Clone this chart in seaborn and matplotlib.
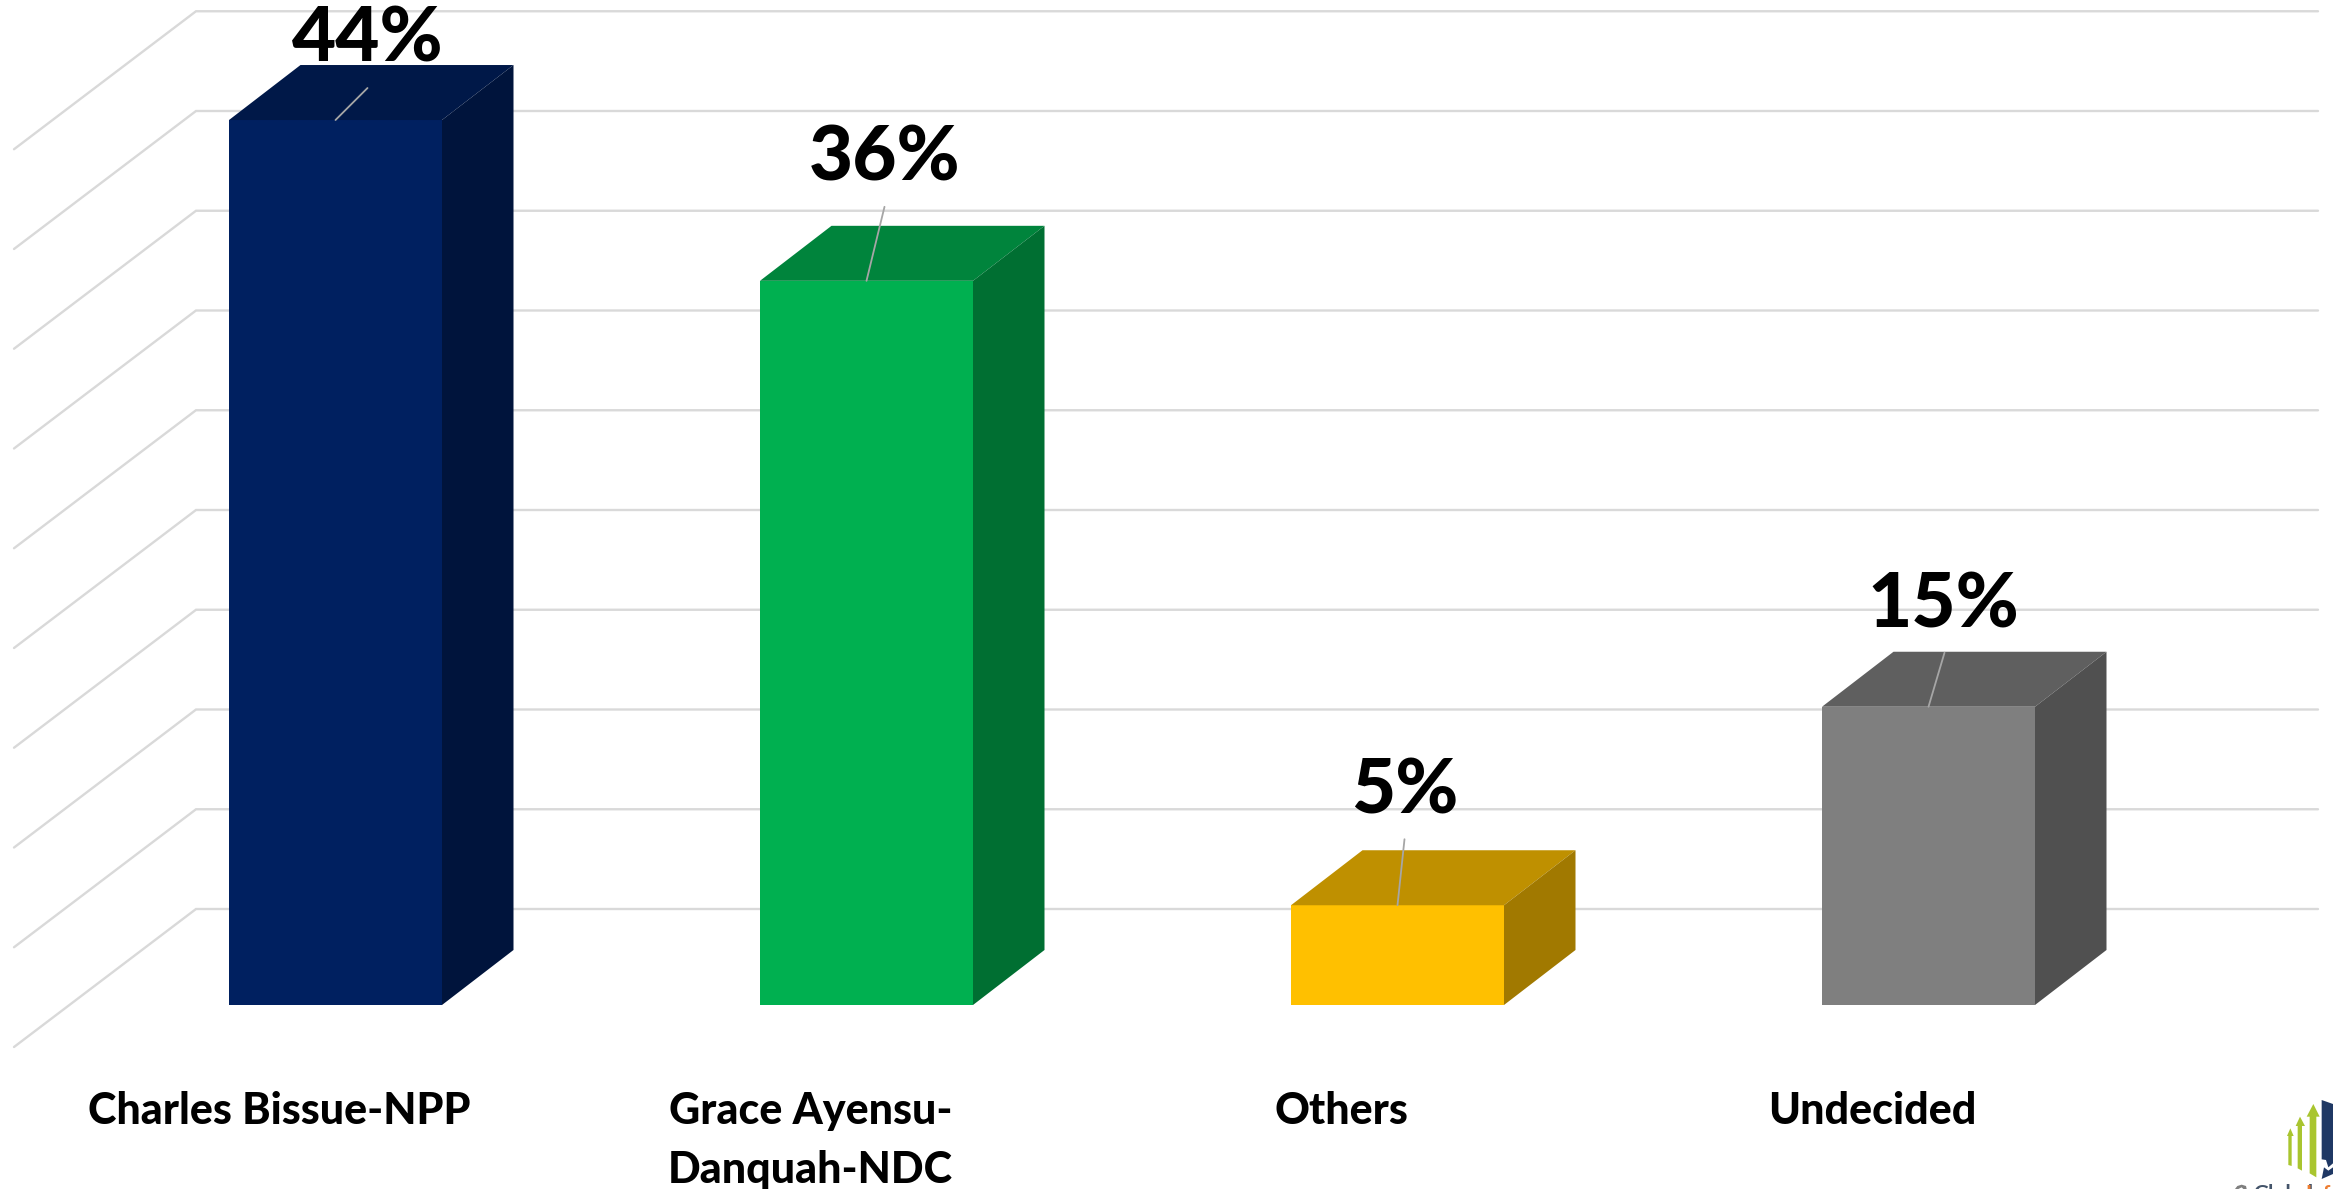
import numpy as np
import matplotlib
matplotlib.use("Agg")
import matplotlib.pyplot as plt
from matplotlib.patches import Polygon
import seaborn as sns

# data
categories = ["Charles Bissue-NPP", "Grace Ayensu-\nDanquah-NDC", "Others", "Undecided"]
values = [44.36, 36.3, 5.0, 14.95]
bar_colors = ["#002060", "#00B050", "#FFC000", "#7F7F7F"]
grid_values = [0, 5, 10, 15, 20, 25, 30, 35, 40, 45]

# where the label sits relative to the top of its bar, in pixels
label_dx = [32, 18, 7, 15]
label_dy = [81, 122, 114, 101]
leader_dx = [32, 18, 7, 16]
leader_dy = [32, 74, 66, 54]

W, H = 2333, 1189
BASE_PX = 1005
PX_PER_X = 531.0
PX_PER_Y = 19.95
CENTER0_PX = 335.5

# 3d look: bar depth, wall offset
depth_x = 71.5 / PX_PER_X
depth_y = 55 / PX_PER_Y
wall_rise = 96 / PX_PER_Y
side_dx = 182 / PX_PER_X
side_dy = 138 / PX_PER_Y


def shade(color, k):
    r, g, b = matplotlib.colors.to_rgb(color)
    return (r * k, g * k, b * k)


sns.set_theme(style="white")
plt.rcParams["font.family"] = ["Lato", "DejaVu Sans"]

fig = plt.figure(figsize=(W / 100, H / 100), dpi=100, facecolor="white")
ax = fig.add_axes([0, (H - BASE_PX) / H, 1, BASE_PX / H])

sns.barplot(x=categories, y=values, hue=categories, palette=bar_colors, saturation=1,
            width=213 / PX_PER_X, legend=False, ax=ax, zorder=3, linewidth=0)

ax.set_xlim(-CENTER0_PX / PX_PER_X, (W - CENTER0_PX) / PX_PER_X)
ax.set_ylim(0, BASE_PX / PX_PER_Y)
sns.despine(ax=ax, left=True, bottom=True)
ax.set_yticks([])
ax.set_ylabel("")
ax.patch.set_alpha(0)

# back wall and side wall grid
wall_x = (196 - CENTER0_PX) / PX_PER_X
end_x = (2318 - CENTER0_PX) / PX_PER_X
for g in grid_values:
    y = g + wall_rise
    ax.plot([wall_x - side_dx, wall_x, end_x], [y - side_dy, y, y], color="#D9D9D9", lw=1.7,
            solid_joinstyle="miter", clip_on=False, zorder=1)

# top and side faces of every bar
for p, c in zip(list(ax.patches), bar_colors):
    x0, w, h = p.get_x(), p.get_width(), p.get_height()
    x1 = x0 + w
    top = [(x0, h), (x1, h), (x1 + depth_x, h + depth_y), (x0 + depth_x, h + depth_y)]
    side = [(x1, 0), (x1 + depth_x, depth_y), (x1 + depth_x, h + depth_y), (x1, h)]
    ax.add_patch(Polygon(top, closed=True, fc=shade(c, 0.75), ec="none", zorder=3))
    ax.add_patch(Polygon(side, closed=True, fc=shade(c, 0.63), ec="none", zorder=3))

# value labels and leader lines
for i, v in enumerate(values):
    ax.annotate("", xy=(i, v), xytext=(leader_dx[i], leader_dy[i]), textcoords="offset pixels",
                arrowprops=dict(arrowstyle="-", color="#A6A6A6", lw=1.3, shrinkA=0, shrinkB=0),
                zorder=5)
    ax.annotate(f"{v:.0f}%", xy=(i, v), xytext=(label_dx[i], label_dy[i]), textcoords="offset pixels",
                ha="center", va="center", fontsize=55, fontweight=900, color="black", zorder=6)

# category labels sit left of the bars
positions = np.arange(len(categories)) - 56 / PX_PER_X
ax.set_xticks(positions, categories)
ax.tick_params(axis="x", length=0, pad=62, labelsize=31, labelcolor="black")
for t in ax.get_xticklabels():
    t.set_fontweight(900)
    t.set_linespacing(1.58)


# logo in the corner, cropped by the picture edge
def logo_poly(points, color):
    pts = [((2200 + x / 3) / W, 1 - (1080 + y / 3) / H) for x, y in points]
    fig.add_artist(Polygon(pts, closed=True, fc=color, ec="none", transform=fig.transFigure))


logo_poly([(271, 145), (281, 168), (275, 168), (275, 258), (265, 255), (265, 168), (261, 168)], "#A9C52F")
logo_poly([(300, 110), (315, 138), (306, 138), (306, 272), (293, 265), (293, 138), (287, 138)], "#A9C52F")
logo_poly([(340, 72), (359, 110), (349, 110), (349, 292), (329, 280), (329, 110), (320, 110)], "#A9C52F")
logo_poly([(365, 60), (399, 72), (399, 250), (385, 262), (378, 240), (365, 238)], "#1F3864")
logo_poly([(365, 297), (372, 262), (385, 272), (399, 262), (399, 282)], "#1F3864")
logo_poly([(105, 327), (112, 318), (125, 314), (138, 318), (140, 327), (130, 327), (125, 322), (115, 327)], "#7F7F7F")
fig.text(2253 / W, 1 - 1184 / H, "Global", fontsize=15, fontweight="bold", color="#44546A", ha="left", va="top")
fig.text(2305 / W, 1 - 1184 / H, "Info", fontsize=15, fontweight="bold", color="#ED7D31", ha="left", va="top")

fig.savefig("out.png", dpi=100, facecolor="white")
